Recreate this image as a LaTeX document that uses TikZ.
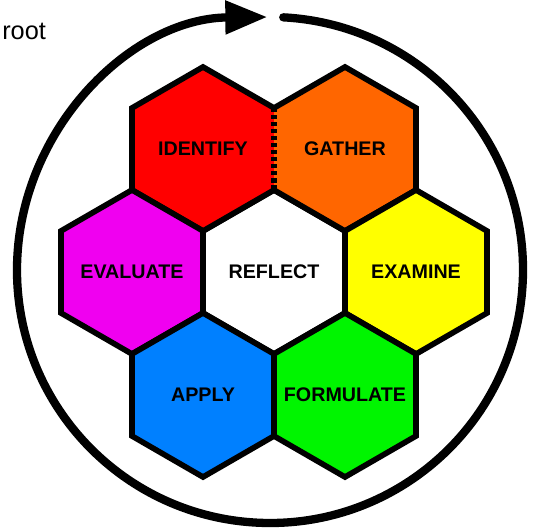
\documentclass[tikz,border=0pt]{standalone}
\usepackage{fontspec}
\setmainfont{Liberation Sans}
\usetikzlibrary{shapes.geometric,arrows.meta}
\definecolor{hexred}{RGB}{255,0,0}
\definecolor{hexorange}{RGB}{255,102,0}
\definecolor{hexmagenta}{RGB}{240,0,240}
\definecolor{hexyellow}{RGB}{255,255,0}
\definecolor{hexblue}{RGB}{0,128,255}
\definecolor{hexgreen}{RGB}{0,245,0}
% keep long labels from growing the cell
\newcommand{\celltext}[1]{\makebox[0pt]{#1}}

\begin{document}
\begin{tikzpicture}[x=0.025cm, y=0.025cm,
    hexcell/.style={regular polygon, regular polygon sides=6, shape border rotate=30,
      minimum size=4.1cm, inner sep=0pt, outer sep=0pt, draw=black, line width=4pt,
      font=\fontsize{14}{16}\selectfont\bfseries},
    ring/.style={line width=5.9pt, line cap=round}]
  \useasboundingbox (0,0) rectangle (535,531);

  % circular arrow round the cells
  \coordinate (hub) at (270,261);
  \draw[ring, -{Triangle[length=1.05cm,width=0.8cm]}] ([shift={(87:253)}]hub)
    arc[start angle=87, end angle=-269.4, radius=253];
  \node[anchor=base west, inner sep=0pt, font=\fontsize{18}{20}\selectfont] (root) at (2,491) {root};

  % the honeycomb
  \node[hexcell, fill=white] (reflect) at (274,259) {\celltext{REFLECT}};
  \node[hexcell, fill=hexred] (identify) at (203,382) {\celltext{IDENTIFY}};
  \node[hexcell, fill=hexorange] (gather) at (345,382) {\celltext{GATHER}};
  \node[hexcell, fill=hexmagenta] (evaluate) at (132,259) {\celltext{EVALUATE}};
  \node[hexcell, fill=hexyellow] (examine) at (416,259) {\celltext{EXAMINE}};
  \node[hexcell, fill=hexblue] (apply) at (203,136) {\celltext{APPLY}};
  \node[hexcell, fill=hexgreen] (formulate) at (345,136) {\celltext{FORMULATE}};

  % dotted edge between identify and gather
  \draw[line width=2pt, hexred] ([xshift=-1pt]identify.30) -- ([xshift=-1pt]identify.-30);
  \draw[line width=2pt, hexorange] ([xshift=1pt]identify.30) -- ([xshift=1pt]identify.-30);
  \draw[line width=4pt, dash pattern=on 3pt off 2pt] (identify.30) -- (identify.-30);
\end{tikzpicture}
\end{document}
